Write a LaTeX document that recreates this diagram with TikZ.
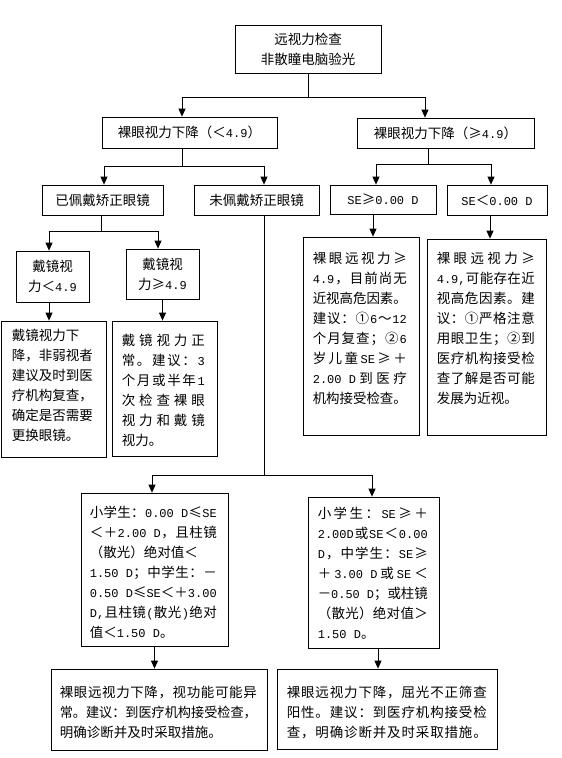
\documentclass[tikz,border=0pt]{standalone}
\usepackage{fontspec}
\usepackage{graphicx}
\setmainfont{Noto Sans CJK SC}
\newfontfamily\latf{Liberation Mono}
\usetikzlibrary{arrows.meta}
\newcommand\ltn[1]{{\latf\fontsize{12}{20}\selectfont #1}}
\newcommand\mystrut{\rule[-6pt]{0pt}{20pt}}
\newlength\JW
\newsavebox\JB
\def\spstop{}
\def\SPend{\spstop}
\def\spreadfirst#1{#1\spreadrest}
\def\spreadrest#1{\def\SPtmp{#1}\ifx\SPtmp\SPend\else\hfil#1\expandafter\spreadrest\fi}
\newcommand\jline[1]{\hbox{\sbox\JB{#1}\ifdim\wd\JB>\JW\resizebox{\JW}{\height}{\usebox\JB}\else\hbox to\JW{\spreadfirst#1\spstop}\fi\mystrut}}
\newcommand\lline[1]{\hbox to\JW{#1\hfil\mystrut}}
\tikzset{
  box/.style={draw, line width=0.8pt, inner sep=0pt, align=center, font=\fontsize{13.5}{20}\selectfont},
  txt/.style={anchor=north west, inner sep=0pt, font=\fontsize{13.5}{20}\selectfont},
  conn/.style={line width=0.8pt},
  arr/.style={line width=0.8pt, -{Triangle[length=8pt,width=7pt]}},
}
\begin{document}
\begin{tikzpicture}[x=1pt,y=-1pt]
\fill[white] (0,0) rectangle (562,758);
\useasboundingbox (0,0) rectangle (562,758);
% boxes
\node[box, minimum width=146pt, minimum height=48pt] (top) at (308,49) {远视力检查\\非散瞳电脑验光};
\node[box, minimum width=175pt, minimum height=31pt] (L1) at (189.5,132.5) {裸眼视力下降（＜\ltn{4.9}）};
\node[box, minimum width=177pt, minimum height=30pt] (R1) at (445.5,133) {裸眼视力下降（≥\ltn{4.9}）};
\node[box, minimum width=121pt, minimum height=30pt] (worn) at (102.5,200) {已佩戴矫正眼镜};
\node[box, minimum width=125pt, minimum height=30pt] (notworn) at (256.5,200) {未佩戴矫正眼镜};
\node[box, minimum width=106pt, minimum height=29pt] (seGe) at (383,199.5) {\ltn{SE}≥\ltn{0.00 D}};
\node[box, minimum width=100pt, minimum height=30pt] (seLt) at (497,200) {\ltn{SE}＜\ltn{0.00 D}};
\node[box, minimum width=73pt, minimum height=51pt] (gLt) at (52.5,276.5) {戴镜视\\力＜\ltn{4.9}};
\node[box, minimum width=73pt, minimum height=50pt] (gGe) at (162.5,274) {戴镜视\\力≥\ltn{4.9}};
\node[box, minimum width=105pt, minimum height=136pt] (tLt) at (53.5,389) {};
\node[box, minimum width=105pt, minimum height=135pt] (tGe) at (164.5,388.5) {};
\node[box, minimum width=116pt, minimum height=198pt] (tSeGe) at (361,336) {};
\node[box, minimum width=119pt, minimum height=196pt] (tSeLt) at (486.5,337) {};
\node[box, minimum width=147pt, minimum height=153pt] (mL) at (154.5,569.5) {};
\node[box, minimum width=131pt, minimum height=151pt] (mR) at (373.5,572.5) {};
\node[box, minimum width=216pt, minimum height=81pt] (bL) at (159,709.5) {};
\node[box, minimum width=220pt, minimum height=80pt] (bR) at (387,709) {};
% texts
\node[txt] (tLtx) at ([shift={(11,6)}]tLt.north west) {\vbox{\JW=82pt
  \lline{戴镜视力下}\lline{降，非弱视者}\lline{建议及时到医}\lline{疗机构复查，}\lline{确定是否需要}\lline{更换眼镜。}}};
\node[txt] (tGex) at ([shift={(10,11)}]tGe.north west) {\vbox{\JW=83pt
  \jline{戴镜视力正}\jline{常。建议：{\ltn{3}}}\jline{个月或半年{\ltn{1}}}\jline{次检查裸眼}\jline{视力和戴镜}\lline{视力。}}};
\node[txt] (tSeGex) at ([shift={(10,13)}]tSeGe.north west) {\vbox{\JW=94pt
  \jline{裸眼远视力≥}\jline{{\ltn{4.9}}，目前尚无}\jline{近视高危因素。}\jline{建议：①{\ltn{6}}～{\ltn{12}}}\jline{个月复查；②{\ltn{6}}}\jline{岁儿童{\ltn{SE}}≥＋}\jline{{\ltn{2.00 D}}到医疗}\jline{机构接受检查。}}};
\node[txt] (tSeLtx) at ([shift={(10,11)}]tSeLt.north west) {\vbox{\JW=98pt
  \jline{裸眼远视力≥}\jline{{\ltn{4.9,}}可能存在近}\jline{视高危因素。建}\jline{议：①严格注意}\jline{用眼卫生；②到}\jline{医疗机构接受检}\jline{查了解是否可能}\lline{发展为近视。}}};
\node[txt] (mLx) at ([shift={(9,11)}]mL.north west) {\vbox{\JW=127pt
  \jline{小学生：{\ltn{0.00 D}}≤{\ltn{SE}}}\jline{＜＋{\ltn{2.00 D}}，且柱镜}\lline{（散光）绝对值＜}\jline{{\ltn{1.50 D}}；中学生：－}\jline{{\ltn{0.50 D}}≤{\ltn{SE}}＜＋{\ltn{3.00}}}\jline{{\ltn{D,}}且柱镜{\ltn{(}}散光{\ltn{)}}绝对}\lline{值＜\ltn{1.50 D}。}}};
\node[txt] (mRx) at ([shift={(10,8)}]mR.north west) {\vbox{\JW=110pt
  \jline{小学生：{\ltn{SE}}≥＋}\jline{{\ltn{2.00D}}或{\ltn{SE}}＜{\ltn{0.00}}}\jline{{\ltn{D}}，中学生：{\ltn{SE}}≥}\jline{＋{\ltn{3.00 D}}或{\ltn{SE}}＜}\jline{－{\ltn{0.50 D}}；或柱镜}\jline{（散光）绝对值＞}\lline{\ltn{1.50 D}。}}};
\node[txt] (bLx) at ([shift={(9,15)}]bL.north west) {\vbox{\JW=197pt
  \jline{裸眼远视力下降，视功能可能异}\jline{常。建议：到医疗机构接受检查，}\lline{明确诊断并及时采取措施。}}};
\node[txt] (bRx) at ([shift={(10,15)}]bR.north west) {\vbox{\JW=200pt
  \jline{裸眼远视力下降，屈光不正筛查}\jline{阳性。建议：到医疗机构接受检}\jline{查，明确诊断并及时采取措施。}}};
% connectors
\draw[conn] (top.south) -- ++(0,24) coordinate (j1);
\draw[arr] (j1) -| ([xshift=-7.5pt]L1.north);
\draw[arr] (j1) -| ([xshift=-20.5pt]R1.north);
\draw[conn] ([xshift=-7.5pt]L1.south) -- ++(0,18) coordinate (j2);
\draw[arr] (j2) -| ([xshift=1.5pt]worn.north);
\draw[arr] (j2) -| ([xshift=7.5pt]notworn.north);
\draw[conn] ([xshift=-17.5pt]R1.south) -- ++(0,16) coordinate (j3);
\draw[arr] (j3) -| ([xshift=-7pt]seGe.north);
\draw[arr] (j3) -| ([xshift=-6pt]seLt.north);
\draw[conn] ([xshift=-1.5pt]worn.south) -- ++(0,16) coordinate (j4);
\draw[arr] (j4) -| ([xshift=-3.5pt]gLt.north);
\draw[arr] (j4) -| ([xshift=-4.5pt]gGe.north);
\draw[arr] ([xshift=-3.5pt]gLt.south) -- ([xshift=-3.5pt]gLt.south |- tLt.north);
\draw[arr] (gGe.south) -- (gGe.south |- tGe.north);
\draw[arr] ([xshift=-10pt]seGe.south) -- ([xshift=-10pt]seGe.south |- tSeGe.north);
\draw[arr] ([xshift=-7pt]seLt.south) -- ([xshift=-7pt]seLt.south |- tSeLt.north);
\draw[conn] ([xshift=7.5pt]notworn.south) -- ++(0,260) coordinate (j5);
\draw[arr] (j5) -| ([xshift=-2.5pt]mL.north);
\draw[arr] (j5) -| ([xshift=-1.5pt]mR.north);
\draw[arr] (mL.south) -- (mL.south |- bL.north);
\draw[arr] ([xshift=4.5pt]mR.south) -- ([xshift=4.5pt]mR.south |- bR.north);
\end{tikzpicture}
\end{document}
